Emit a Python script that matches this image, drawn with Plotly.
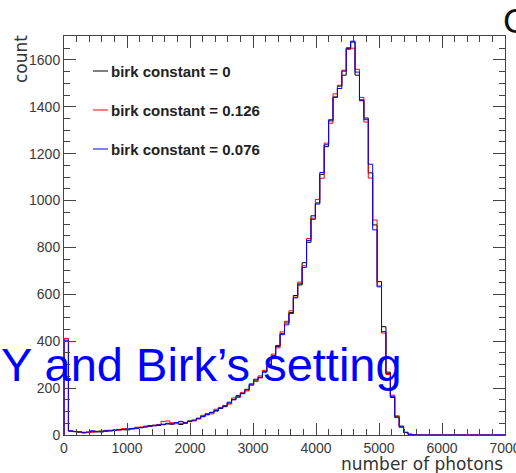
import plotly.graph_objects as go

# Histogram binning: 100 bins of 70 photons from 0 to 7000
bin_width = 70
n_bins = 100

# Bin contents for the three Birks-constant settings
counts_k0 = [
    400, 16, 14, 12, 9, 11, 14, 13, 17, 16,
    20, 19, 22, 24, 22, 28, 30, 32, 35, 40,
    42, 41, 44, 47, 46, 52, 45, 50, 60, 62,
    70, 78, 86, 95, 104, 113, 121, 136, 150, 163,
    178, 192, 218, 234, 246, 270, 292, 338, 378, 432,
    478, 522, 595, 640, 735, 822, 935, 990, 1112, 1230,
    1340, 1442, 1488, 1535, 1648, 1676, 1535, 1426, 1352, 1118,
    896, 654, 462, 268, 160, 78, 35, 10, 3, 1,
    0, 0, 0, 0, 0, 0, 0, 0, 0, 0,
    0, 0, 0, 0, 0, 0, 0, 0, 0, 0,
]
counts_k0126 = [
    412, 17, 16, 13, 12, 10, 12, 16, 14, 20,
    18, 22, 21, 27, 25, 25, 33, 34, 38, 36,
    40, 45, 58, 60, 52, 48, 50, 54, 57, 60,
    68, 84, 92, 90, 110, 118, 126, 132, 158, 160,
    182, 188, 212, 228, 252, 276, 298, 345, 372, 440,
    485, 530, 588, 652, 722, 838, 925, 1005, 1095, 1245,
    1330, 1455, 1492, 1556, 1645, 1650, 1560, 1440, 1335, 1096,
    917, 636, 435, 258, 170, 82, 32, 12, 4, 0,
    0, 0, 0, 0, 0, 0, 0, 0, 0, 0,
    0, 0, 0, 0, 0, 0, 0, 0, 0, 0,
]
counts_k0076 = [
    405, 18, 15, 14, 10, 13, 18, 15, 13, 18,
    17, 20, 23, 22, 26, 27, 28, 31, 34, 38,
    39, 43, 46, 50, 48, 53, 58, 52, 58, 64,
    72, 80, 88, 97, 102, 115, 124, 140, 152, 168,
    176, 195, 214, 238, 244, 268, 296, 335, 382, 428,
    470, 518, 585, 645, 715, 830, 920, 985, 1120, 1238,
    1345, 1440, 1478, 1552, 1652, 1680, 1548, 1430, 1345, 1155,
    875, 632, 441, 262, 165, 74, 38, 11, 2, 1,
    0, 0, 0, 0, 0, 0, 0, 0, 0, 0,
    0, 0, 0, 0, 0, 0, 0, 0, 0, 0,
]

series_labels = ["birk constant = 0", "birk constant = 0.126", "birk constant = 0.076"]
series_colors = ["#000000", "#ff0000", "#0000ff"]
series_counts = [counts_k0, counts_k0126, counts_k0076]

x_ticks = [0, 1000, 2000, 3000, 4000, 5000, 6000, 7000]
y_ticks = [0, 200, 400, 600, 800, 1000, 1200, 1400, 1600]

# Frame geometry in pixels (used to place the free-floating text)
W, H = 516, 473
L, R, T, B = 64, 11, 36, 38
pw, ph = W - L - R, H - T - B


def px(xp):
    return (xp - L) / pw


def py(yp):
    return (H - B - yp) / ph


edges = [i * bin_width for i in range(n_bins + 1)]

fig = go.Figure()
for label, color, counts in zip(series_labels, series_colors, series_counts):
    # ROOT-style outline: rise from zero at the low edge, then step per bin
    xs = [edges[0]] + edges[:-1] + [edges[-1]]
    ys = [0] + counts + [counts[-1]]
    fig.add_trace(go.Scatter(
        x=xs, y=ys, mode="lines", name=label,
        line=dict(color=color, width=1, shape="hv"),
        hoverinfo="skip",
    ))

tick_font = dict(family="Liberation Sans", size=14, color="#3a3a3a")
axis_common = dict(
    showgrid=False, zeroline=False, automargin=False,
    showline=True, linecolor="#444444", linewidth=1, mirror="ticks",
    ticks="inside", ticklen=12, tickwidth=1, tickcolor="#444444",
    tickfont=tick_font, ticklabeloverflow="allow",
)

fig.update_xaxes(
    range=[0, 7000], tickvals=x_ticks, ticktext=[str(v) for v in x_ticks],
    minor=dict(dtick=200, tick0=0, ticks="inside", ticklen=6, tickcolor="#444444"),
    **axis_common,
)
fig.update_yaxes(
    range=[0, 1702], tickvals=y_ticks, ticktext=[str(v) for v in y_ticks],
    minor=dict(dtick=50, tick0=0, ticks="inside", ticklen=6, tickcolor="#444444"),
    **axis_common,
)

annotations = [
    # axis titles
    dict(text="number of photons", x=1.0, y=py(464), xref="paper", yref="paper",
         xanchor="right", yanchor="middle", showarrow=False,
         font=dict(family="DejaVu Sans", size=17, color="#333333")),
    dict(text="count", x=px(21), y=py(59), xref="paper", yref="paper",
         xanchor="center", yanchor="middle", textangle=-90, showarrow=False,
         font=dict(family="DejaVu Sans", size=17, color="#333333")),
    # slide overlay text
    dict(text="Y and Birk’s setting", x=px(-1), y=py(364), xref="paper", yref="paper",
         xanchor="left", yanchor="middle", showarrow=False,
         font=dict(family="Liberation Sans", size=47, color="#0000ff")),
    dict(text="C", x=px(501), y=py(21), xref="paper", yref="paper",
         xanchor="left", yanchor="middle", showarrow=False,
         font=dict(family="Liberation Sans", size=35, color="#111111")),
]

# Legend drawn as short line samples with bold labels
shapes = []
legend_rows = [71, 110, 149]
for row, label, color in zip(legend_rows, series_labels, series_colors):
    shapes.append(dict(type="line", xref="paper", yref="paper",
                       x0=px(93), x1=px(108), y0=py(row), y1=py(row),
                       line=dict(color=color, width=1)))
    annotations.append(dict(text="<b>" + label + "</b>", x=px(109), y=py(row),
                            xref="paper", yref="paper", xanchor="left", yanchor="middle",
                            showarrow=False,
                            font=dict(family="Liberation Sans", size=15, color="#222222")))

fig.update_layout(
    width=W, height=H,
    margin=dict(l=L, r=R, t=T, b=B, pad=0, autoexpand=False),
    plot_bgcolor="white", paper_bgcolor="white",
    showlegend=False,
    annotations=annotations,
    shapes=shapes,
)

fig.write_html("out.html")
